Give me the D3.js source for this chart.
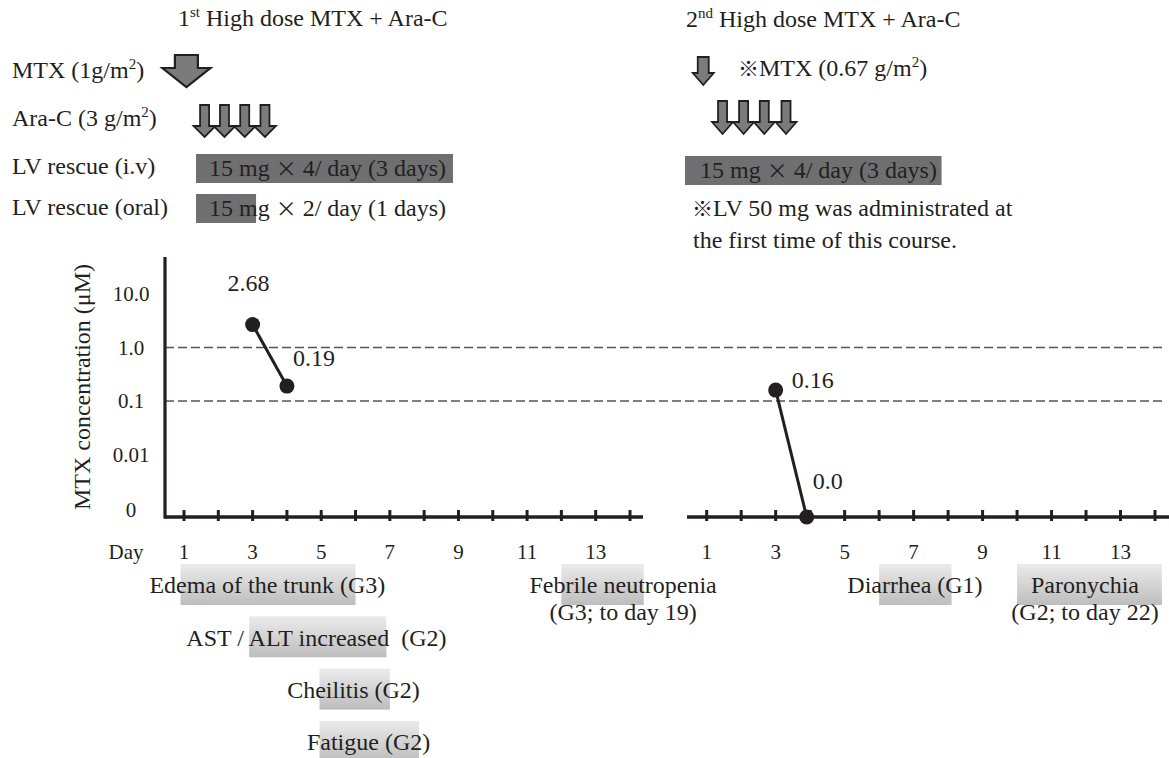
<!DOCTYPE html>
<html>
<head>
<meta charset="utf-8">
<script src="https://cdn.jsdelivr.net/npm/d3@7"></script>
<style>
  body { margin: 0; background: #fff; }
  svg text { font-family: 'Liberation Serif', 'Times New Roman', serif; fill: #231f20; white-space: pre; }
  .cjk { font-family: 'Noto Sans CJK JP', sans-serif; }
</style>
</head>
<body>
<svg id="chart" width="1169" height="758"></svg>
<script>
// axis ticks
const dayTicks = [1, 2, 3, 4, 5, 6, 7, 8, 9, 10, 11, 12, 13, 14]
const dayLabels = [1, 3, 5, 7, 9, 11, 13]
const concTicks = [10, 1, 0.1, 0.01, 0]
const concTickLabels = ['10.0', '1.0', '0.1', '0.01', '0']
const refLines = [1, 0.1]

// MTX concentration (uM) per course
const course1Days = [3, 4]
const course1Conc = [2.68, 0.19]
const course1Text = ['2.68', '0.19']
const course2Days = [3, 3.9]
const course2Conc = [0.16, 0]
const course2Text = ['0.16', '0.0']

// dosing schedule (days)
const mtxDays = [1.07, 0.9]
const araC1Days = [1.6, 2.18, 2.77, 3.36]
const araC2Days = [1.46, 2.07, 2.67, 3.3]
const lvIv1 = [1.35, 8.84]
const lvOral1 = [1.35, 3.1]
const lvIv2 = [0.37, 7.81]

// adverse events
const aeLines = [
  ['Edema of the trunk (G3)'],
  ['AST / ALT increased  (G2)'],
  ['Cheilitis (G2)'],
  ['Fatigue (G2)'],
  ['Febrile neutropenia', '(G3; to day 19)'],
  ['Diarrhea (G1)'],
  ['Paronychia', '(G2; to day 22)']
]
const aeCourse = [0, 0, 0, 0, 0, 1, 1]
const aeStart = [0.9, 2.9, 4.95, 4.95, 12, 6, 10]
const aeEnd = [6, 6.9, 7, 7.85, 14.4, 8.1, 14.2]
const aeTextDay = [3.43, 4.86, 5.94, 6.38, 13.8, 7.04, 11.97]
const aeRow = [0, 1, 2, 3, 0, 0, 0]

const ink = '#231f20'
const svg = d3.select('#chart')

const x1 = d3.scaleLinear().domain([1, 14]).range([184, 630])
const x2 = d3.scaleLinear().domain([1, 14]).range([706.7, 1155])
const xs = [x1, x2]
const baseY = 517
const yLog = d3.scaleLog().domain([0.01, 10]).range([454.5, 294])
const y = (v) => v === 0 ? baseY : yLog(v)

const defs = svg.append('defs')
const grad = defs.append('linearGradient').attr('id', 'aeGrad')
  .attr('x1', 0).attr('y1', 0).attr('x2', 0).attr('y2', 1)
grad.append('stop').attr('offset', '0%').attr('stop-color', '#ebebeb')
grad.append('stop').attr('offset', '100%').attr('stop-color', '#bdbdbd')

// text with ^superscript^ parts
function rich(g, x, yc, str, size) {
  const t = g.append('text').attr('x', x).attr('y', yc).attr('dy', '0.33em')
    .style('font-size', size + 'px')
  const parts = str.split('^')
  parts.forEach((p, i) => {
    if (p === '') return
    const span = t.append('tspan').text(p)
    if (i % 2 === 1) span.style('font-size', Math.round(size * 0.62) + 'px').attr('dy', -size * 0.38)
    else if (i > 0) span.attr('dy', size * 0.38)
  })
  return t
}
// text where × and ※ come from the CJK font
function mixed(g, x, yc, str, size) {
  const t = g.append('text').attr('x', x).attr('y', yc).attr('dy', '0.33em')
    .style('font-size', size + 'px')
  str.split(/([×※])/).forEach((p) => {
    if (p === '') return
    const span = t.append('tspan').text(p)
    if (p === '×' || p === '※') span.attr('class', 'cjk').style('font-size', (size - 3) + 'px')
  })
  return t
}

function arrowPath(cx, y0, shaftW, headW, headY, tip) {
  return 'M' + (cx - shaftW / 2) + ',' + y0 + 'H' + (cx + shaftW / 2) + 'V' + headY +
    'H' + (cx + headW / 2) + 'L' + cx + ',' + tip + 'L' + (cx - headW / 2) + ',' + headY +
    'H' + (cx - shaftW / 2) + 'Z'
}

// ---- header: titles & row labels
const header = svg.append('g')
rich(header, 178, 18, '1^st^ High dose MTX + Ara-C', 24)
rich(header, 686, 19, '2^nd^ High dose MTX + Ara-C', 24)
rich(header, 12, 70, 'MTX (1g/m^2^)', 24)
rich(header, 12, 118, 'Ara-C (3 g/m^2^)', 24)
rich(header, 12, 166, 'LV rescue (i.v)', 24)
rich(header, 12, 207, 'LV rescue (oral)', 24)

// ---- arrows
const arrows = svg.append('g').style('fill', '#7b7b7b').style('stroke', ink).style('stroke-linejoin', 'miter')
arrows.append('path').attr('d', arrowPath(x1(mtxDays[0]), 55, 23, 48, 68, 87)).style('stroke-width', 2.2)
arrows.append('path').attr('d', arrowPath(x2(mtxDays[1]), 57, 11, 21, 73, 85)).style('stroke-width', 1.8)
arrows.selectAll('path.ac1').data(araC1Days).enter().append('path').attr('class', 'ac1')
  .attr('d', (d) => arrowPath(x1(d), 105, 9, 22, 126, 137)).style('stroke-width', 1.8)
arrows.selectAll('path.ac2').data(araC2Days).enter().append('path').attr('class', 'ac2')
  .attr('d', (d) => arrowPath(x2(d), 101, 9, 21, 122, 134)).style('stroke-width', 1.8)

// ---- LV bars
const lv = svg.append('g')
lv.append('rect').attr('x', x1(lvIv1[0])).attr('y', 154).attr('width', x1(lvIv1[1]) - x1(lvIv1[0])).attr('height', 29).style('fill', '#6f6f71')
lv.append('rect').attr('x', x1(lvOral1[0])).attr('y', 194).attr('width', x1(lvOral1[1]) - x1(lvOral1[0])).attr('height', 29).style('fill', '#6f6f71')
lv.append('rect').attr('x', x2(lvIv2[0])).attr('y', 156).attr('width', x2(lvIv2[1]) - x2(lvIv2[0])).attr('height', 29).style('fill', '#6f6f71')
mixed(lv, x1(lvIv1[0]) + 13, 168, '15 mg × 4/ day (3 days)', 24)
mixed(lv, x1(lvOral1[0]) + 13, 208, '15 mg × 2/ day (1 days)', 24)
mixed(lv, x2(lvIv2[0]) + 15, 170, '15 mg × 4/ day (3 days)', 24)

// notes for course 2
const note = svg.append('g')
const n1 = mixed(note, 738, 68, '※MTX (0.67 g/m', 24)
n1.append('tspan').text('2').style('font-size', '15px').attr('dy', -9)
n1.append('tspan').text(')').attr('dy', 9)
mixed(note, 692, 208, '※LV 50 mg was administrated at', 24)
mixed(note, 693, 240, 'the first time of this course.', 24)

// ---- concentration chart
const chart = svg.append('g')

// reference lines
chart.selectAll('line.ref').data(refLines).enter().append('line').attr('class', 'ref')
  .attr('x1', 165).attr('x2', 1165)
  .attr('y1', (d) => y(d)).attr('y2', (d) => y(d))
  .style('stroke', '#555').style('stroke-width', 1.3).style('stroke-dasharray', '9,4')

// y axis
chart.append('line').attr('x1', 165).attr('x2', 165).attr('y1', 257).attr('y2', baseY + 1.5)
  .style('stroke', ink).style('stroke-width', 3.2)
chart.selectAll('text.ytick').data(concTicks).enter().append('text').attr('class', 'ytick')
  .attr('x', 131).attr('y', (d) => d === 0 ? y(d) - 7 : y(d)).attr('dy', '0.35em')
  .attr('text-anchor', 'middle').style('font-size', '21px')
  .text((d, i) => concTickLabels[i])
chart.append('text').attr('transform', 'translate(82,387) rotate(-90)')
  .attr('text-anchor', 'middle').attr('dy', '0.35em').style('font-size', '24px')
  .text('MTX concentration (μM)')

// x axes (two broken segments)
const axisSpan = [[164, 643], [687, 1169]]
xs.forEach((x, k) => {
  const g = chart.append('g')
  g.append('line').attr('x1', axisSpan[k][0]).attr('x2', axisSpan[k][1]).attr('y1', baseY).attr('y2', baseY)
    .style('stroke', ink).style('stroke-width', 3.6)
  g.selectAll('line.tick').data(dayTicks).enter().append('line').attr('class', 'tick')
    .attr('x1', (d) => x(d)).attr('x2', (d) => x(d)).attr('y1', baseY - 7).attr('y2', baseY + 4)
    .style('stroke', ink).style('stroke-width', 3)
  g.selectAll('text').data(dayLabels).enter().append('text')
    .attr('x', (d) => x(d)).attr('y', 552).attr('dy', '0.35em').attr('text-anchor', 'middle')
    .style('font-size', '21px').text((d) => d)
})
chart.append('text').attr('x', 126).attr('y', 552).attr('dy', '0.35em').attr('text-anchor', 'middle')
  .style('font-size', '21px').text('Day')

// series
const courses = [
  { x: x1, days: course1Days, conc: course1Conc, text: course1Text, off: [[-4, -42], [27, -28]] },
  { x: x2, days: course2Days, conc: course2Conc, text: course2Text, off: [[37, -10], [21, -36]] }
]
const line = d3.line()
courses.forEach((c) => {
  const pts = c.days.map((d, i) => [c.x(d), y(c.conc[i])])
  chart.append('path').attr('d', line(pts)).style('fill', 'none').style('stroke', ink).style('stroke-width', 3)
  chart.selectAll(null).data(pts).enter().append('circle')
    .attr('cx', (p) => p[0]).attr('cy', (p) => p[1]).attr('r', 7.5).style('fill', ink)
  chart.selectAll(null).data(pts).enter().append('text')
    .attr('x', (p, i) => p[0] + c.off[i][0]).attr('y', (p, i) => p[1] + c.off[i][1])
    .attr('dy', '0.35em').attr('text-anchor', 'middle').style('font-size', '24px')
    .text((p, i) => c.text[i])
})

// ---- adverse events
const ae = svg.append('g')
const rowTop = (r) => 564 + r * 52.3
aeLines.forEach((lines, i) => {
  const x = xs[aeCourse[i]]
  ae.append('rect').attr('x', x(aeStart[i])).attr('y', rowTop(aeRow[i]))
    .attr('width', x(aeEnd[i]) - x(aeStart[i])).attr('height', 41)
    .style('fill', 'url(#aeGrad)')
  lines.forEach((l, j) => {
    ae.append('text').attr('x', x(aeTextDay[i])).attr('y', rowTop(aeRow[i]) + 21 + j * 27)
      .attr('dy', '0.35em').attr('text-anchor', 'middle').style('font-size', '24px').text(l)
  })
})
</script>
</body>
</html>
